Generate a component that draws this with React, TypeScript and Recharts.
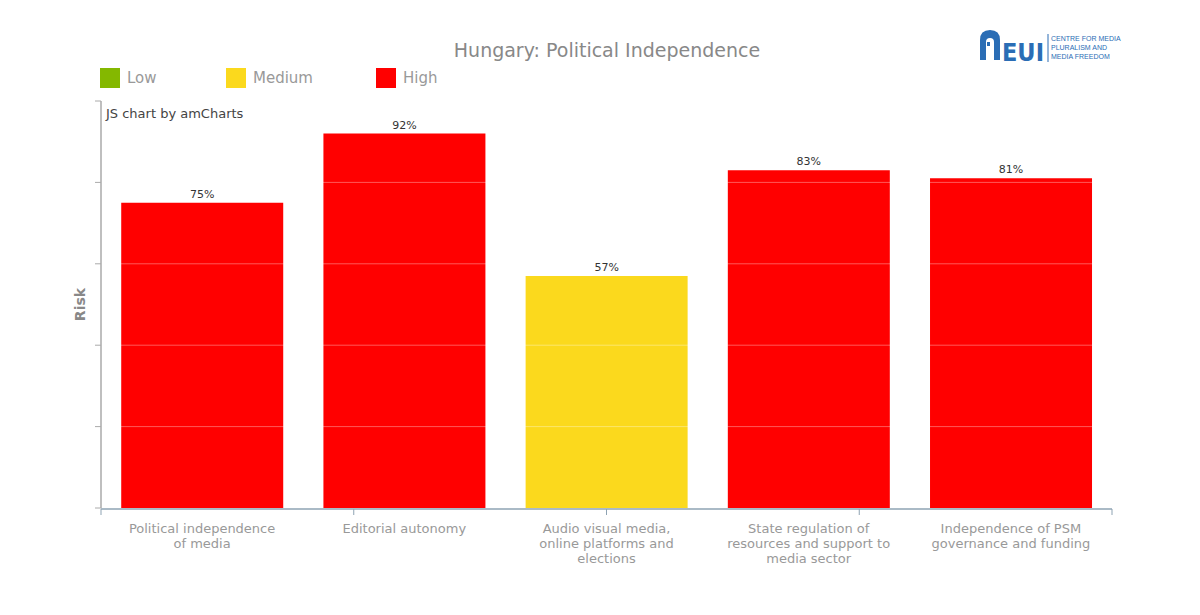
import {
  BarChart,
  Bar,
  XAxis,
  YAxis,
  Cell,
  LabelList,
  Label,
  ReferenceLine,
} from "recharts";

// =====================
// Data
// =====================
const categories = [
  "Political independence of media",
  "Editorial autonomy",
  "Audio visual media, online platforms and elections",
  "State regulation of resources and support to media sector",
  "Independence of PSM governance and funding",
];
const riskValues = [75, 92, 57, 83, 81];
const riskLevels = ["High", "High", "Medium", "High", "High"];

const legendNames = ["Low", "Medium", "High"];
const legendColors = ["#84b800", "#fbd91d", "#ff0000"];

const yTicks = [0, 20, 40, 60, 80, 100];
const gridValues = [20, 40, 60, 80, 100];
const edgeTicks = [0, 1, 2, 3, 4, 5];

const data = categories.map((name, i) => ({
  name,
  value: riskValues[i],
  level: riskLevels[i],
}));

const FONT = "Verdana, 'DejaVu Sans', sans-serif";

// wrap label into lines of at most n chars
function wrap(text: string, n: number) {
  const words = text.split(" ");
  const lines: string[] = [];
  let cur = "";
  words.forEach((w) => {
    const next = cur ? cur + " " + w : w;
    if (next.length > n && cur) {
      lines.push(cur);
      cur = w;
    } else {
      cur = next;
    }
  });
  if (cur) lines.push(cur);
  return lines;
}

function CategoryTick({ x, y, payload }: any) {
  const lines = wrap(payload.value, 24);
  return (
    <text
      x={x}
      y={y}
      textAnchor="middle"
      fill="#999"
      fontSize={13}
      fontFamily={FONT}
    >
      {lines.map((l, i) => (
        <tspan key={i} x={x} dy={i === 0 ? 17 : 15}>
          {l}
        </tspan>
      ))}
    </text>
  );
}

const NoTick = () => <g />;

function LegendBox() {
  const lefts = [100, 226, 376];
  return (
    <>
      {legendNames.map((n, i) => (
        <div
          key={n}
          style={{
            position: "absolute",
            left: lefts[i],
            top: 68,
            display: "flex",
            alignItems: "center",
          }}
        >
          <span
            style={{
              width: 20,
              height: 20,
              background: legendColors[i],
              display: "inline-block",
              marginRight: 7,
            }}
          />
          <span style={{ color: "#999", fontSize: 15, fontFamily: FONT }}>
            {n}
          </span>
        </div>
      ))}
    </>
  );
}

function RiskLabel({ viewBox }: any) {
  const cx = viewBox.x - 19;
  const cy = viewBox.y + viewBox.height / 2;
  return (
    <text
      x={cx}
      y={cy}
      transform={`rotate(-90 ${cx} ${cy})`}
      textAnchor="middle"
      dominantBaseline="middle"
      fill="#888"
      fontSize={14}
      fontWeight="bold"
      fontFamily={FONT}
    >
      Risk
    </text>
  );
}

function Logo() {
  return (
    <svg
      width={150}
      height={40}
      style={{ position: "absolute", left: 978, top: 28 }}
    >
      <path
        d="M2 32 L2 12 Q2 2 12 2 Q22 2 22 12 L22 32 L16 32 L16 14 Q16 10 12 10 Q8 10 8 14 L8 32 Z"
        fill="#2a6db5"
      />
      <rect x={9} y={14} width={3} height={4} fill="#2a6db5" />
      <text
        x={24}
        y={33}
        fontSize={25}
        fontWeight="bold"
        fill="#2a6db5"
        fontFamily="'DejaVu Sans Condensed', 'Liberation Sans Narrow', sans-serif"
      >
        EUI
      </text>
      <line x1={70} y1={6} x2={70} y2={34} stroke="#2a6db5" strokeWidth={1} />
      {["CENTRE FOR MEDIA", "PLURALISM AND", "MEDIA FREEDOM"].map((t, i) => (
        <text
          key={t}
          x={73}
          y={13 + i * 9}
          fontSize={7}
          fill="#2a6db5"
          fontFamily="'Liberation Sans', sans-serif"
        >
          {t}
        </text>
      ))}
    </svg>
  );
}

export default function App() {
  return (
    <div
      style={{
        position: "relative",
        width: 1200,
        height: 615,
        marginLeft: -8,
        marginTop: -8,
        background: "#fff",
        overflow: "hidden",
      }}
    >
      <div
        style={{
          position: "absolute",
          left: 0,
          top: 39,
          width: 1214,
          textAlign: "center",
          color: "#888",
          fontSize: 19,
          fontFamily: FONT,
        }}
      >
        Hungary: Political Independence
      </div>
      <Logo />
      <LegendBox />
      <div
        style={{
          position: "absolute",
          left: 106,
          top: 106,
          color: "#444",
          fontSize: 13,
          fontFamily: FONT,
          zIndex: 2,
        }}
      >
        JS chart by amCharts
      </div>
      <BarChart
        width={1200}
        height={615}
        data={data}
        margin={{ top: 101, right: 88, left: 100, bottom: 105 }}
        barCategoryGap="10%"
      >
        <XAxis
          dataKey="name"
          interval={0}
          axisLine={false}
          tickLine={false}
          height={1}
          tick={<CategoryTick />}
        />
        <XAxis
          xAxisId="edge"
          type="number"
          domain={[0, 5]}
          ticks={edgeTicks}
          tick={NoTick}
          height={1}
          tickSize={6}
          axisLine={{ stroke: "#8ea3b3", strokeWidth: 1.5 }}
          tickLine={{ stroke: "#8ea3b3" }}
        />
        <YAxis
          width={1}
          domain={[0, 100]}
          ticks={yTicks}
          tick={NoTick}
          tickSize={6}
          axisLine={{ stroke: "#aaa", strokeWidth: 1.5 }}
          tickLine={{ stroke: "#aaa" }}
        >
          <Label content={<RiskLabel />} />
        </YAxis>
        <Bar dataKey="value" isAnimationActive={false}>
          {data.map((d, i) => (
            <Cell
              key={i}
              fill={legendColors[legendNames.indexOf(d.level)]}
            />
          ))}
          <LabelList
            dataKey="value"
            position="top"
            offset={5}
            formatter={(v: any) => `${v}%`}
            fill="#333"
            fontSize={11}
            fontFamily={FONT}
          />
        </Bar>
        {gridValues.map((v) => (
          <ReferenceLine
            key={v}
            y={v}
            stroke="#ffffff"
            strokeOpacity={0.35}
          />
        ))}
      </BarChart>
    </div>
  );
}
